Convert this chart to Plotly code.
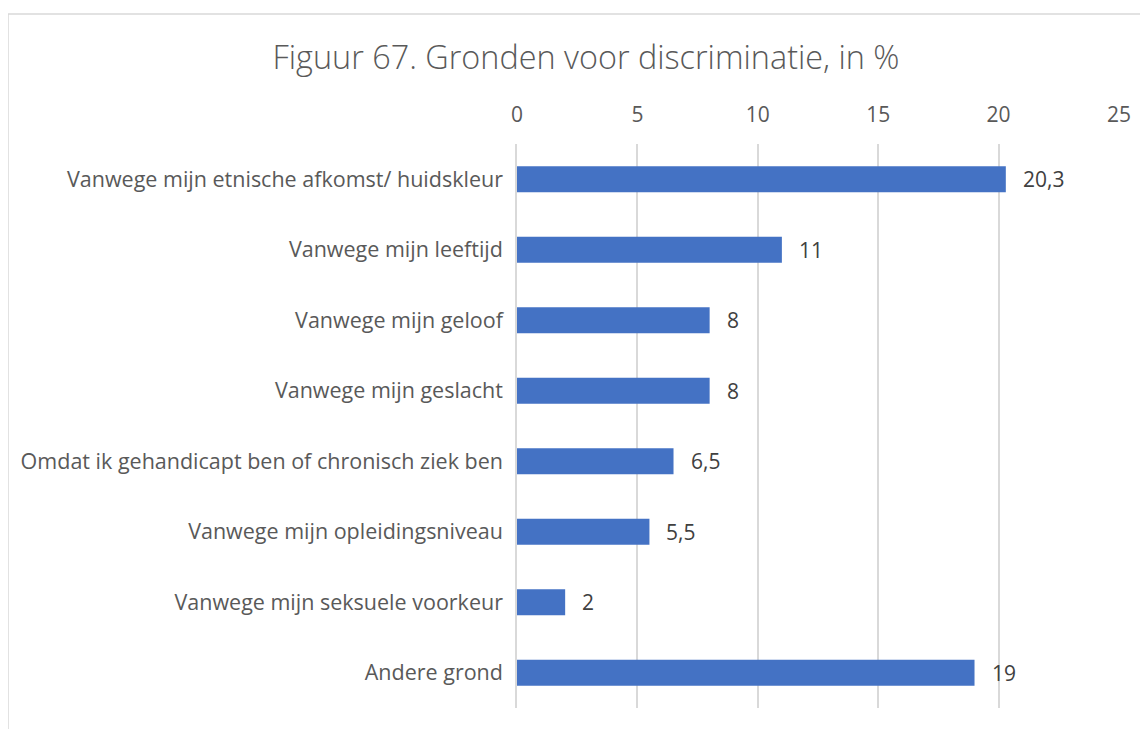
import plotly.graph_objects as go

categories = [
    "Vanwege mijn etnische afkomst/ huidskleur",
    "Vanwege mijn leeftijd",
    "Vanwege mijn geloof",
    "Vanwege mijn geslacht",
    "Omdat ik gehandicapt ben of chronisch ziek ben",
    "Vanwege mijn opleidingsniveau",
    "Vanwege mijn seksuele voorkeur",
    "Andere grond",
]
percentages = [20.3, 11, 8, 8, 6.5, 5.5, 2, 19]
tick_values = [0, 5, 10, 15, 20, 25]

labels = [f"{v:g}".replace(".", ",") for v in percentages]

fig = go.Figure(
    go.Bar(
        x=percentages,
        y=categories,
        orientation="h",
        width=0.37,
        marker=dict(color="#4472C4", line=dict(width=0)),
        hoverinfo="x+y",
    )
)

for cat, val, lab in zip(categories, percentages, labels):
    fig.add_annotation(
        x=val, y=cat, text=lab, showarrow=False,
        xanchor="left", xshift=15,
        font=dict(family="Open Sans, sans-serif", size=21, color="#404040"),
    )

# chart frame (left + top edges visible in the reference)
fig.add_shape(
    type="rect", xref="paper", yref="paper",
    x0=-0.8455, x1=1.2, y0=-0.2, y1=1.2305,
    line=dict(color="#d9d9d9", width=1.5), layer="below",
)

fig.update_xaxes(
    side="top", range=[0, 25], tickvals=tick_values,
    showgrid=True, gridcolor="#d9d9d9", gridwidth=1.5,
    zeroline=False, showline=False, ticks="",
    tickfont=dict(family="Open Sans, sans-serif", size=21, color="#595959"),
    ticklabelstandoff=17,
)
fig.update_yaxes(
    autorange="reversed", showgrid=False, zeroline=False,
    showline=True, linecolor="#d9d9d9", linewidth=1.5,
    ticks="", ticklabelstandoff=8,
    tickfont=dict(family="Open Sans, sans-serif", size=21.5, color="#595959"),
)
fig.update_layout(
    width=1140, height=721,
    title=dict(
        text="Figuur 67. Gronden voor discriminatie, in %",
        x=0.507, xanchor="center", y=0.9307, yanchor="middle",
        font=dict(family="Open Sans, sans-serif", size=32.4, color="#595959", weight=300),
    ),
    margin=dict(l=509, r=29, t=136, b=21),
    plot_bgcolor="white", paper_bgcolor="white",
    showlegend=False,
)

fig.write_html("out.html")
